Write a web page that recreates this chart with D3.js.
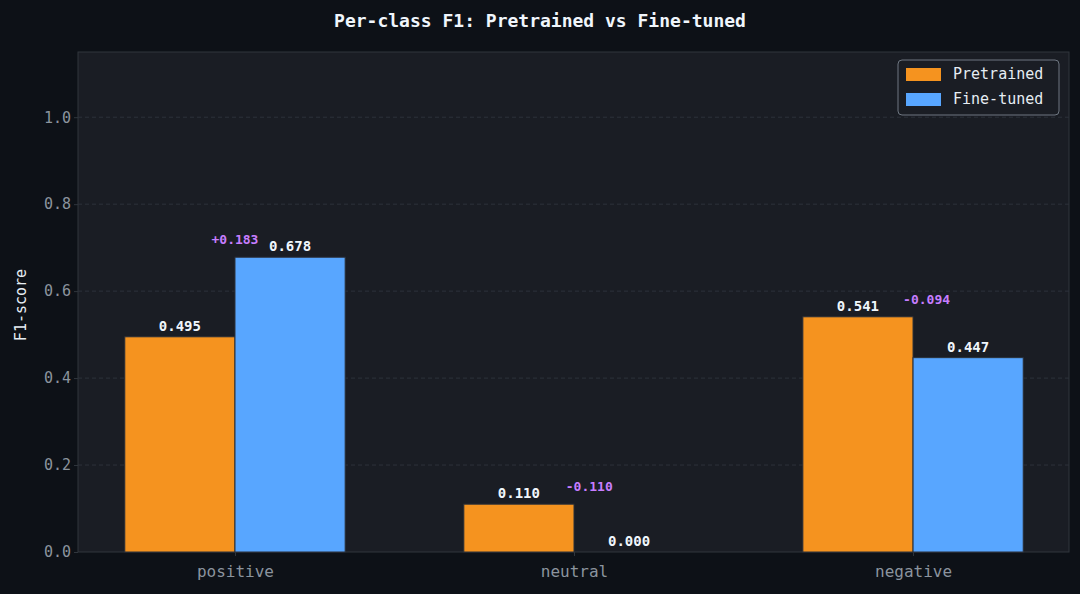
<!DOCTYPE html>
<html><head><meta charset="utf-8">
<script src="https://cdn.jsdelivr.net/npm/d3@7"></script>
<style>
  body { margin: 0; background: #0d1117; }
  text { font-family: "DejaVu Sans Mono", monospace; }
</style>
</head><body>
<svg id="chart" width="1080" height="594"></svg>
<script>
// chart data
var classes = ['positive', 'neutral', 'negative'];
var pretrained = [0.495, 0.110, 0.541];
var finetuned = [0.678, 0.000, 0.447];
var deltaLabels = ['+0.183', '-0.110', '-0.094'];
var deltaShift = [0, 0.045, 0.04];
var yTicks = [0, 0.2, 0.4, 0.6, 0.8, 1.0];

var svg = d3.select('#chart');
var m = { left: 78, right: 1069, top: 52, bottom: 552 };

var x = d3.scaleLinear().domain([-0.463, 2.46]).range([m.left, m.right]);
var y = d3.scaleLinear().domain([0, 1.15]).range([m.bottom, m.top]);
var bw = 0.325;

svg.append('rect')
  .attr('x', m.left).attr('y', m.top)
  .attr('width', m.right - m.left).attr('height', m.bottom - m.top)
  .attr('fill', '#1a1d24').attr('stroke', '#30363d');

// grid
svg.selectAll('.grid').data(yTicks.slice(1)).enter().append('line')
  .attr('x1', m.left).attr('x2', m.right)
  .attr('y1', function(d) { return y(d); }).attr('y2', function(d) { return y(d); })
  .attr('stroke', '#2d323b').attr('stroke-dasharray', '4,3');

// y axis
var ya = svg.append('g').attr('transform', 'translate(' + m.left + ',0)')
  .call(d3.axisLeft(y).tickValues(yTicks).tickFormat(d3.format('.1f')).tickSize(4));
ya.select('.domain').remove();
ya.selectAll('line').attr('stroke', '#30363d');
ya.selectAll('text').attr('fill', '#8b949e').style('font-size', '15px');

// x axis
var xa = svg.append('g').attr('transform', 'translate(0,' + m.bottom + ')')
  .call(d3.axisBottom(x).tickValues([0, 1, 2]).tickFormat(function(d) { return classes[d]; }).tickSize(4));
xa.select('.domain').remove();
xa.selectAll('line').attr('stroke', '#30363d');
xa.selectAll('text').attr('fill', '#8b949e').style('font-size', '16px').attr('dy', '1.1em');

function bars(vals, off, color) {
  svg.selectAll(null).data(vals).enter().append('rect')
    .attr('x', function(d, i) { return x(i + off); })
    .attr('y', function(d) { return y(d); })
    .attr('width', x(bw) - x(0))
    .attr('height', function(d) { return y(0) - y(d); })
    .attr('fill', color).attr('stroke', '#2a2f38').attr('stroke-width', 1);
  svg.selectAll(null).data(vals).enter().append('text')
    .attr('x', function(d, i) { return x(i + off + bw / 2); })
    .attr('y', function(d) { return y(d) - 6; })
    .attr('text-anchor', 'middle').attr('fill', '#f0f6fc')
    .style('font-size', '14px').style('font-weight', 'bold')
    .text(function(d) { return d.toFixed(3); });
}
bars(pretrained, -bw, '#f5931f');
bars(finetuned, 0, '#58a6ff');

svg.selectAll(null).data(deltaLabels).enter().append('text')
  .attr('x', function(d, i) { return x(i + deltaShift[i]); })
  .attr('y', function(d, i) { return y(Math.max(pretrained[i], finetuned[i])) - 13; })
  .attr('text-anchor', 'middle').attr('fill', '#c77dff')
  .style('font-size', '13px').style('font-weight', 'bold')
  .text(function(d) { return d; });

// title + y label
svg.append('text').attr('x', 540).attr('y', 27).attr('text-anchor', 'middle')
  .attr('fill', '#f0f6fc').style('font-size', '18px').style('font-weight', 'bold')
  .text('Per-class F1: Pretrained vs Fine-tuned');
svg.append('text').attr('transform', 'translate(26,305) rotate(-90)')
  .attr('text-anchor', 'middle').attr('fill', '#e6edf3').style('font-size', '15px')
  .text('F1-score');

// legend
var lg = svg.append('g').attr('transform', 'translate(898,60)');
lg.append('rect').attr('width', 161).attr('height', 55).attr('rx', 4)
  .attr('fill', '#1a1d24').attr('stroke', '#6e7681');
[['Pretrained', '#f5931f'], ['Fine-tuned', '#58a6ff']].forEach(function(e, i) {
  lg.append('rect').attr('x', 8).attr('y', 8 + i * 25).attr('width', 35).attr('height', 13)
    .attr('fill', e[1]);
  lg.append('text').attr('x', 55).attr('y', 19 + i * 25).attr('fill', '#e6edf3')
    .style('font-size', '15px').text(e[0]);
});
</script>
</body></html>
